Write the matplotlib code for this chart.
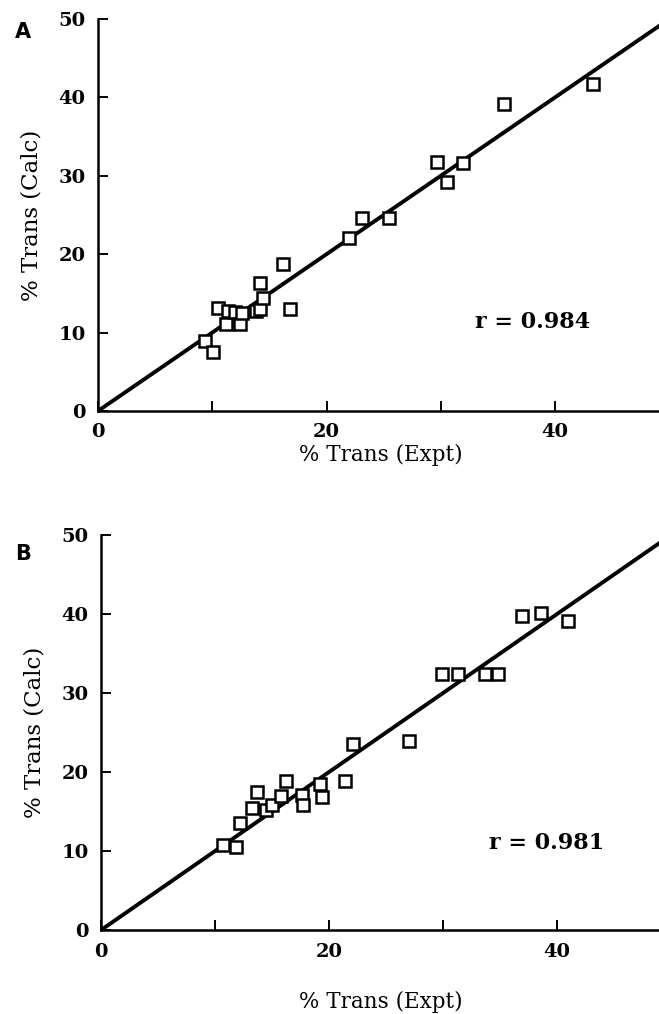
import numpy as np
import matplotlib
matplotlib.use('Agg')
import matplotlib.pyplot as plt

# panel A: % trans, experiment vs calculated
a_expt = [9.4, 10.1, 10.5, 11.2, 11.4, 12.0, 12.4, 12.6, 13.8, 14.2, 14.4, 14.2,
          16.2, 16.8, 22.0, 23.1, 25.5, 29.7, 30.5, 31.9, 35.5, 43.3]
a_calc = [8.9, 7.5, 13.1, 11.1, 12.7, 12.6, 11.1, 12.5, 12.8, 13.0, 14.4, 16.3,
          18.7, 13.0, 22.0, 24.6, 24.6, 31.8, 29.2, 31.6, 39.2, 41.7]
a_r = 'r = 0.984'

# panel B
b_expt = [10.7, 11.8, 12.2, 13.2, 13.7, 14.5, 15.0, 15.8, 16.2, 17.6, 17.7, 19.2,
          19.4, 21.4, 22.1, 27.0, 29.9, 31.3, 33.7, 34.8, 36.9, 38.6, 41.0]
b_calc = [10.8, 10.5, 13.5, 15.4, 17.5, 15.2, 15.8, 17.0, 18.9, 17.1, 15.8, 18.5,
          16.9, 18.9, 23.6, 23.9, 32.4, 32.4, 32.4, 32.4, 39.7, 40.1, 39.1]
b_r = 'r = 0.981'

xticks = [0, 10, 20, 30, 40]
xticklabels = ['0', '', '20', '', '40']
yticks = [0, 10, 20, 30, 40, 50]

serif = 'DejaVu Serif'

fig = plt.figure(figsize=(6.59, 10.14), dpi=100)

def panel(pos, xs, ys, rtxt, rpos, letter, letter_y, xlabel_y):
    ax = fig.add_axes(pos)
    ax.plot([0, 50], [0, 50], color='black', lw=2.8, solid_capstyle='butt', zorder=2)
    ax.plot(xs, ys, 's', ms=9, mfc='white', mec='black', mew=1.8, zorder=3)
    ax.set_xlim(0, 50)
    ax.set_ylim(0, 50)
    ax.spines['top'].set_visible(False)
    ax.spines['right'].set_visible(False)
    for s in ['left', 'bottom']:
        ax.spines[s].set_linewidth(1.8)
    ax.set_xticks(xticks)
    ax.set_xticklabels(xticklabels)
    ax.set_yticks(yticks)
    ax.tick_params(direction='in', length=7, width=1.4, pad=9, labelsize=14)
    for lab in ax.get_xticklabels() + ax.get_yticklabels():
        lab.set_fontfamily(serif)
        lab.set_fontweight('bold')
    ax.set_ylabel('% Trans (Calc)', fontsize=16.5, family=serif, labelpad=11)
    ax.text(rpos[0], rpos[1], rtxt, fontsize=16, family=serif, fontweight='bold',
            ha='center', va='center')
    fig.text(0.035, letter_y, letter, fontsize=15, fontweight='bold',
             family='DejaVu Sans', ha='center', va='center')
    fig.text(0.578, xlabel_y, '% Trans (Expt)', fontsize=15.5, family=serif,
             ha='center', va='center')
    return ax

panel([0.1487, 0.5947, 0.867, 0.3866], a_expt, a_calc, a_r, (38.0, 11.4),
      'A', 0.968, 0.551)
panel([0.1533, 0.0828, 0.865, 0.3896], b_expt, b_calc, b_r, (39.1, 11.0),
      'B', 0.454, 0.012)

fig.savefig('out.png', dpi=100)
